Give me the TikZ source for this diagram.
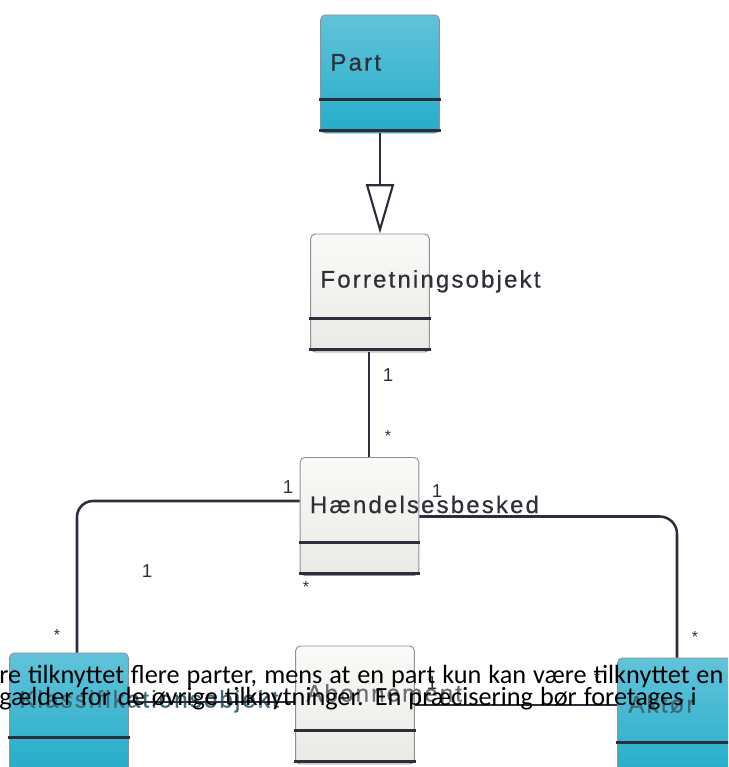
\documentclass[tikz,border=0pt]{standalone}
\usepackage{fontspec}
\setmainfont{Liberation Sans}
\newfontfamily\umlfont[LetterSpace=9,FakeBold=0.6]{Liberation Sans}
\newfontfamily\notefont{Carlito}
\usetikzlibrary{arrows.meta,calc}

\definecolor{cyanlight}{HTML}{62C3DA}
\definecolor{cyandark}{HTML}{25ADCA}
\definecolor{greylight}{HTML}{FAFAF8}
\definecolor{greydark}{HTML}{E9E9E6}
\definecolor{boxedge}{HTML}{8E9196}
\definecolor{inkdark}{HTML}{2B2E3B}
\definecolor{titleink}{HTML}{2E3038}
\definecolor{titlegrey}{HTML}{6C6E74}
\definecolor{titleteal}{HTML}{3E6876}

\tikzset{
  classbox/.style={rounded corners=3.5pt, draw=boxedge, line width=0.7pt,
    minimum width=89pt, minimum height=88.5pt, inner sep=0pt, shading angle=45},
  cyanbox/.style={classbox, top color=cyanlight, bottom color=cyandark},
  greybox/.style={classbox, top color=greylight, bottom color=greydark},
  sepline/.style={draw=inkdark, line width=2.2pt},
  classtitle/.style={anchor=base west, inner sep=0pt, text=titleink,
    font=\umlfont\fontsize{18pt}{20pt}\selectfont},
  assoc/.style={draw=inkdark, line width=1.9pt},
  mult/.style={inner sep=0pt, text=titleink, font=\fontsize{14pt}{16pt}\selectfont},
  star/.style={inner sep=0pt, text=titleink, font=\fontsize{12pt}{13pt}\selectfont},
  notetext/.style={anchor=base west, inner sep=0pt, text=black,
    font=\notefont\fontsize{19.7pt}{22pt}\selectfont}
}

\begin{document}
\begin{tikzpicture}[x=0.75pt, y=-0.75pt]
\useasboundingbox (0,0) rectangle (728,767);
\clip (0,0) rectangle (728,767);

% class boxes
\node[cyanbox] (part)  at (380,74)    {};
\node[greybox] (forr)  at (370,293)   {};
\node[greybox] (haend) at (359.5,516.5) {};
\node[cyanbox] (klass) at (69,712)    {};
\node[greybox] (abon)  at (355,705)   {};
\node[cyanbox] (aktor) at (677,717)   {};

% compartment separators
\foreach \b in {part,forr,haend,abon} {
  \draw[sepline] ($(\b.north west)+(-1,85)$) -- ($(\b.north east)+(1,85)$);
  \draw[sepline] ($(\b.north west)+(-1,116)$) -- ($(\b.north east)+(1,116)$);
}
\foreach \b in {klass,aktor} {
  \draw[sepline] ($(\b.north west)+(-1,85)$) -- ($(\b.north east)+(1,85)$);
}

% class names
\node[classtitle] (partname)  at ($(part.north west)+(10,56)$)  {Part};
\node[classtitle] (forrname)  at ($(forr.north west)+(10,54)$)  {Forretningsobjekt};
\node[classtitle] (haendname) at ($(haend.north west)+(10,56)$) {Hændelsesbesked};
\node[classtitle, text=titleteal] (klassname) at ($(klass.north west)+(10,55)$) {Klassifikationsobjekt};
\node[classtitle, text=titlegrey] (abonname)  at ($(abon.north west)+(11,56)$)  {Abonnement};
\node[classtitle, text=titleteal] (aktorname) at ($(aktor.north west)+(11,55)$) {Aktør};

% generalisation
\draw[assoc, -{Triangle[open, width=21pt, length=37pt, line width=1.6pt]}]
  (part.south) -- (part.south |- forr.north);

% associations
\coordinate (fb) at ($(forr.south)+(-1,0)$);
\draw[assoc] (fb) -- (fb |- haend.north);
\coordinate (hl) at ($(haend.west)+(0,-15.5)$);
\coordinate (kt) at ($(klass.north)+(8,0)$);
\draw[assoc, rounded corners=12pt] (hl) -| (kt);
\draw[assoc, rounded corners=13pt] (haend.east) -| (aktor.north);
\coordinate (kr) at ($(klass.east)+(0,-10)$);
\draw[assoc] (kr) -- (kr -| abon.west);
\draw[assoc] (abon.east) -- (abon.east -| aktor.west);

% multiplicities
\node[mult] (m1) at (388,375) {1};
\node[star] (m2) at (388,436) {*};
\node[mult] (m3) at (288,487) {1};
\node[star] (m4) at (306,587) {*};
\node[mult] (m5) at (437,491) {1};
\node[mult] (m6) at (147,571) {1};
\node[star] (m7) at (57,635)  {*};
\node[star] (m8) at (695,637) {*};
\node[mult] (m9) at (432,683) {1};
\node[star] (m10) at (597,678) {*};

% overlaid paragraph text, spread to its line width
\node[notetext] (note1) at (-1,683)
  {\makebox[543pt][s]{re tilknyttet flere parter, mens at en part kun kan være tilknyttet en}};
\node[notetext] (note2) at (-1,705.5)
  {\makebox[523pt][s]{gælder for de øvrige tilknytninger. En præcisering bør foretages i}};
\end{tikzpicture}
\end{document}
